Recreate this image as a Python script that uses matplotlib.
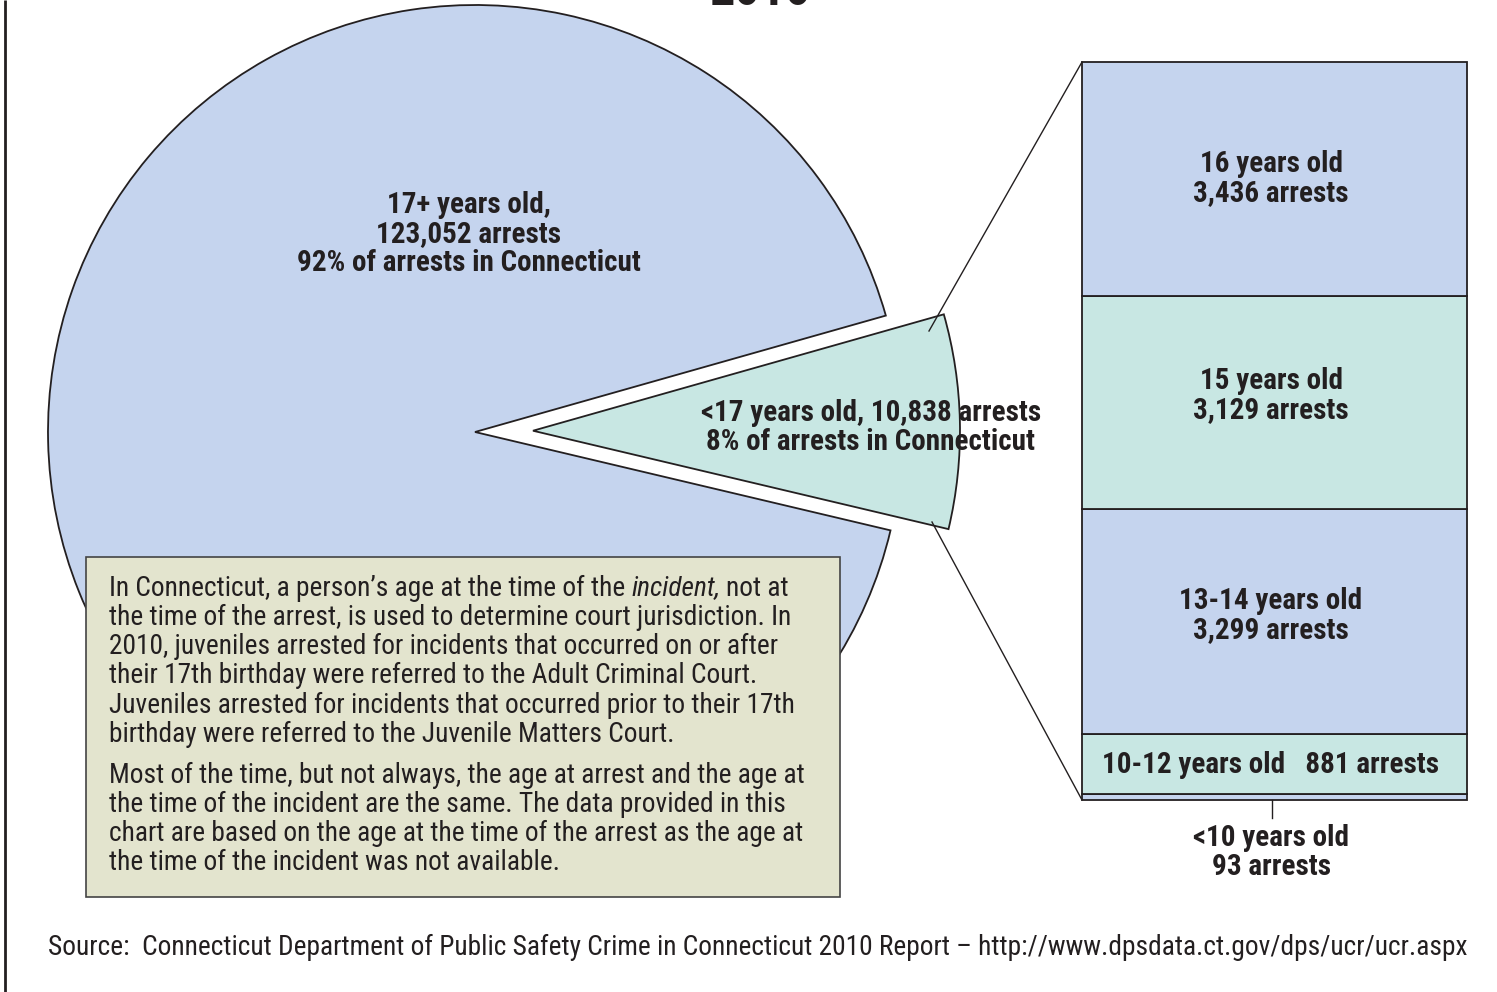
import matplotlib
matplotlib.use('Agg')
import matplotlib.pyplot as plt
from matplotlib.patches import Rectangle

W, H = 1497, 992

# ---- data ----
pie_labels = ['<17 years old', '17+ years old']
pie_values = [10838, 123052]
pie_pct = ['8%', '92%']
bar_labels = ['<10 years old', '10-12 years old', '13-14 years old', '15 years old', '16 years old']
bar_values = [93, 881, 3299, 3129, 3436]

BLUE = '#C5D4EE'
TEAL = '#C8E7E3'
BOX = '#E3E4CE'
INK = '#231F20'
FONT = ['Roboto Condensed', 'Archivo Narrow', 'IBM Plex Sans Condensed', 'DejaVu Sans']
plt.rcParams['font.family'] = FONT

fig = plt.figure(figsize=(W / 100, H / 100), dpi=100)

# stacked bar (created first so the overlay axes draws on top)
bax = fig.add_axes([1082 / W, (H - 800) / H, 385 / W, 738 / H])
bax.set_xlim(0, 1)
bax.set_ylim(0, sum(bar_values))
bax.axis('off')
bottom = 0
bar_colors = [BLUE, TEAL, BLUE, TEAL, BLUE]
for v, c in zip(bar_values, bar_colors):
    r = bax.bar(0.5, v, width=1, bottom=bottom, color=c, edgecolor=INK, linewidth=1.3)
    for p in r:
        p.set_clip_on(False)
    bottom += v

ax = fig.add_axes([0, 0, 1, 1])


def Y(y):
    return H - y


total = sum(pie_values)
frac = pie_values[0] / total
start = 1.25 - 180 * frac
ax.pie(pie_values, colors=[TEAL, BLUE], startangle=start, explode=[58, 0],
       radius=427, center=(475, Y(432)), frame=True,
       wedgeprops=dict(edgecolor=INK, linewidth=1.3))
ax.set_xlim(0, W)
ax.set_ylim(0, H)
ax.set_aspect('auto')
ax.axis('off')

# left border
ax.plot([5, 5], [0, H], color=INK, lw=2, solid_capstyle='butt')

# title (cut off at top)
ax.text(760, Y(5), '2010', ha='center', va='baseline', fontsize=36,
        fontweight='bold', color=INK)

BS = 21
# pie labels
for i, s in enumerate(['17+ years old,', f'{pie_values[1]:,} arrests',
                       f'{pie_pct[1]} of arrests in Connecticut']):
    ax.text(469, Y(205 + 29 * i), s, ha='center', va='center', fontsize=BS,
            fontweight='bold', color=INK)
for i, s in enumerate([f'{pie_labels[0]}, {pie_values[0]:,} arrests',
                       f'{pie_pct[0]} of arrests in Connecticut']):
    ax.text(871, Y(413 + 29 * i), s, ha='center', va='center', fontsize=BS,
            fontweight='bold', color=INK, zorder=5)

# connectors
ax.plot([929, 1082], [Y(331), Y(62)], color=INK, lw=1)
ax.plot([932, 1082], [Y(522), Y(800)], color=INK, lw=1)
ax.plot([1272, 1272], [Y(800), Y(818)], color=INK, lw=1)

# text box
ax.add_patch(Rectangle((86, Y(897)), 754, 340, facecolor=BOX, edgecolor='#444444',
                       lw=1.2, zorder=6))
TS = 19.7
t1 = ax.text(109, Y(588), 'In Connecticut, a person\u2019s age at the time of the',
             ha='left', va='center', fontsize=TS, color=INK, zorder=7)
t2 = ax.annotate('incident,', xy=(1, 0), xycoords=t1, xytext=(4.3, 0),
                 textcoords='offset points', ha='left', va='bottom', fontsize=TS,
                 style='italic', color=INK, zorder=7)
ax.annotate('not at', xy=(1, 0), xycoords=t2, xytext=(4.3, 0),
            textcoords='offset points', ha='left', va='bottom', fontsize=TS,
            color=INK, zorder=7)
lines = [
    (617, 'the time of the arrest, is used to determine court jurisdiction. In'),
    (646, '2010, juveniles arrested for incidents that occurred on or after'),
    (675, 'their 17th birthday were referred to the Adult Criminal Court.'),
    (705, 'Juveniles arrested for incidents that occurred prior to their 17th'),
    (734, 'birthday were referred to the Juvenile Matters Court.'),
    (775, 'Most of the time, but not always, the age at arrest and the age at'),
    (804, 'the time of the incident are the same. The data provided in this'),
    (833, 'chart are based on the age at the time of the arrest as the age at'),
    (862, 'the time of the incident was not available.'),
]
for y, s in lines:
    ax.text(109, Y(y), s, ha='left', va='center', fontsize=TS, color=INK, zorder=7)

# source
ax.text(48, Y(947), 'Source:  Connecticut Department of Public Safety Crime in Connecticut 2010 Report \u2013 http://www.dpsdata.ct.gov/dps/ucr/ucr.aspx',
        ha='left', va='center', fontsize=TS, color=INK)

# bar labels
for (y0, lab, v) in [(164, bar_labels[4], bar_values[4]),
                     (381, bar_labels[3], bar_values[3]),
                     (601, bar_labels[2], bar_values[2])]:
    ax.text(1271, Y(y0), lab, ha='center', va='center', fontsize=BS,
            fontweight='bold', color=INK)
    ax.text(1271, Y(y0 + 29), f'{v:,} arrests', ha='center', va='center',
            fontsize=BS, fontweight='bold', color=INK)
ax.text(1271, Y(765), f'{bar_labels[1]}   {bar_values[1]:,} arrests', ha='center',
        va='center', fontsize=BS, fontweight='bold', color=INK)
ax.text(1271, Y(838), bar_labels[0], ha='center', va='center', fontsize=BS,
        fontweight='bold', color=INK)
ax.text(1271, Y(867), f'{bar_values[0]} arrests', ha='center', va='center',
        fontsize=BS, fontweight='bold', color=INK)

fig.savefig('out.png', dpi=100)
